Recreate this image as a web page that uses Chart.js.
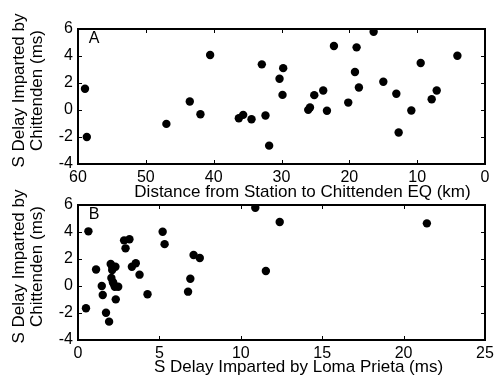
<!DOCTYPE html>
<html>
<head>
<meta charset="utf-8">
<script src="https://cdn.jsdelivr.net/npm/chart.js@4.4.1/dist/chart.umd.min.js"></script>
<style>
  html, body { margin: 0; padding: 0; background: #fff; overflow: hidden; }
  #lienzo { position: relative; width: 498px; height: 375px; }
  #lienzo canvas { position: absolute; left: 0; }
  #chartA { top: 0; }
  #chartB { top: 185px; }
</style>
</head>
<body>
<div id="lienzo">
  <canvas id="chartA" width="498" height="200"></canvas>
  <canvas id="chartB" width="498" height="190"></canvas>
</div>
<script>
// --- DATOS ---
// Panel A: distancia estación -> sismo Chittenden (km) vs retardo S (ms)
const distanciaKm = [58.97, 58.7, 46.97, 43.52, 41.95, 40.52, 36.29, 35.65, 34.42, 32.9, 32.36, 31.82,
    30.29, 29.75, 29.85, 26.06, 25.8, 25.17, 23.85, 23.3, 22.27, 20.16, 19.17, 18.93, 18.59, 16.42,
    14.99, 13.07, 12.73, 10.86, 9.48, 7.86, 7.12, 4.07];
const retardoA = [1.57, -2.0, -1.03, 0.63, -0.31, 4.07, -0.61, -0.36, -0.68, 3.38, -0.41, -2.64,
    2.31, 3.1, 1.12, 0.01, 0.18, 1.1, 1.45, -0.06, 4.74, 0.55, 2.81, 4.64, 1.67, 5.8,
    2.09, 1.2, -1.67, -0.04, 3.48, 0.8, 1.45, 4.02];

// Panel B: retardo por Loma Prieta (ms) vs retardo por Chittenden (ms)
const retardoLoma = [0.64, 0.49, 1.11, 1.46, 1.52, 1.72, 1.91, 2.01, 2.1, 2.05, 2.14, 2.3,
    2.26, 2.47, 2.32, 2.83, 3.16, 2.92, 3.31, 3.55, 3.78, 4.27, 5.2, 5.32, 6.76, 6.9,
    7.1, 7.48, 10.89, 11.54, 12.39, 21.43, 2.18, 2.1];
const retardoB = [4.05, -1.65, 1.22, 0.0, -0.67, -1.98, -2.64, 1.63, 1.19, 0.59, 0.3, 1.43,
    -0.05, -0.05, -0.99, 3.38, 3.46, 2.79, 1.43, 1.68, 0.84, -0.61, 4.02, 3.1, -0.42, 0.54,
    2.3, 2.07, 5.8, 1.11, 4.74, 4.64, 0.18, 1.45];

// Ejes
const ticksY = { min: -4, max: 6, paso: 2 };
const ticksXA = { min: 0, max: 60, paso: 10 };
const ticksXB = { min: 0, max: 25, paso: 5 };
const tituloY = ['S Delay Imparted by', 'Chittenden (ms)'];
const tituloXA = 'Distance from Station to Chittenden EQ (km)';
const tituloXB = 'S Delay Imparted by Loma Prieta (ms)';

const FUENTE = '"Liberation Sans", Arial, sans-serif';
Chart.defaults.color = '#000';
Chart.defaults.font.family = FUENTE;
Chart.defaults.font.size = 16;

// Marco estilo MATLAB: caja completa con ticks hacia dentro, letra del panel y títulos
const marcoPlugin = {
    id: 'marco',
    beforeDatasetsDraw(chart, args, opts) {
        const { ctx, chartArea: a, scales: { x, y } } = chart;
        ctx.save();
        ctx.strokeStyle = '#000';
        ctx.lineWidth = 1;
        ctx.beginPath();
        x.ticks.forEach(t => {
            const px = Math.round(x.getPixelForValue(t.value)) + 0.5;
            ctx.moveTo(px, a.bottom); ctx.lineTo(px, a.bottom - 4);
            ctx.moveTo(px, a.top); ctx.lineTo(px, a.top + 4);
        });
        y.ticks.forEach(t => {
            const py = Math.round(y.getPixelForValue(t.value)) + 0.5;
            ctx.moveTo(a.left, py); ctx.lineTo(a.left + 4, py);
            ctx.moveTo(a.right, py); ctx.lineTo(a.right - 4, py);
        });
        ctx.stroke();
        ctx.lineWidth = 2;
        ctx.strokeRect(a.left, a.top, a.right - a.left, a.bottom - a.top);

        ctx.fillStyle = '#000';
        ctx.font = '16px ' + FUENTE;
        ctx.textAlign = 'center';
        ctx.textBaseline = 'middle';
        ctx.fillText(opts.letra, a.left + 16, a.top + 10);

        // títulos de ejes
        ctx.font = '17px ' + FUENTE;
        ctx.textBaseline = 'alphabetic';
        ctx.fillText(opts.tituloX, (a.left + a.right) / 2 + opts.desplX, opts.baseX);
        const cy = (a.top + a.bottom) / 2 - 6;
        opts.tituloY.forEach((linea, i) => {
            ctx.save();
            ctx.translate(24 + i * 18, cy);
            ctx.rotate(-Math.PI / 2);
            ctx.fillText(linea, 0, 0);
            ctx.restore();
        });
        ctx.restore();
    }
};

function crearPanel(idCanvas, xs, ys, ejeX, tituloX, invertirX, padTop, altoX, letra, desplX, baseX) {
    const puntos = xs.map((v, i) => ({ x: v, y: ys[i] }));
    new Chart(document.getElementById(idCanvas), {
        type: 'scatter',
        data: {
            datasets: [{
                data: puntos,
                backgroundColor: '#000',
                borderColor: '#000',
                pointRadius: 4.2,
                pointBorderWidth: 0
            }]
        },
        options: {
            responsive: false,
            animation: false,
            layout: { padding: { top: padTop, right: 13, bottom: 0, left: 0 } },
            plugins: {
                legend: { display: false },
                tooltip: { enabled: false },
                marco: { letra: letra, tituloX: tituloX, tituloY: tituloY, desplX: desplX, baseX: baseX }
            },
            scales: {
                x: {
                    type: 'linear',
                    min: ejeX.min, max: ejeX.max,
                    reverse: invertirX,
                    grid: { display: false, drawTicks: false },
                    border: { display: false },
                    ticks: { stepSize: ejeX.paso, padding: 4, maxRotation: 0 },
                    afterFit: (s) => { s.height = altoX; }
                },
                y: {
                    min: ticksY.min, max: ticksY.max,
                    grid: { display: false, drawTicks: false },
                    border: { display: false },
                    ticks: { stepSize: ticksY.paso, padding: 5 },
                    afterFit: (s) => { s.width = 78; }
                }
            }
        },
        plugins: [marcoPlugin]
    });
}

crearPanel('chartA', distanciaKm, retardoA, ticksXA, tituloXA, true, 29, 36, 'A', 21, 197);
crearPanel('chartB', retardoLoma, retardoB, ticksXB, tituloXB, false, 20, 35, 'B', 17, 186.5);
</script>
</body>
</html>
